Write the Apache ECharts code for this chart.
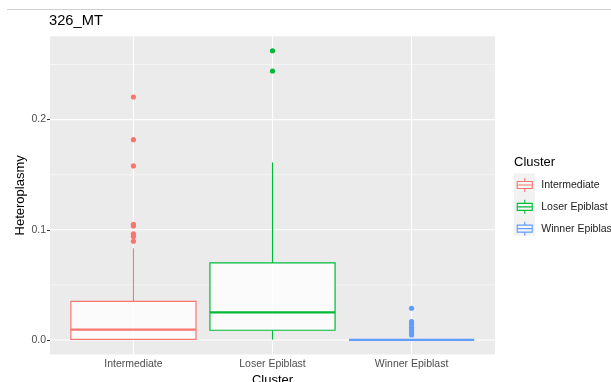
<!DOCTYPE html>
<html><head><meta charset="utf-8">
<script src="https://cdn.jsdelivr.net/npm/echarts@6/dist/echarts.min.js"></script>
<style>html,body{margin:0;padding:0;background:#fff;}#c{width:611px;height:382px;}</style>
</head><body><div id="c"></div>
<script>
// ---- data ----
var categories = ['Intermediate', 'Loser Epiblast', 'Winner Epiblast'];
// [lower whisker, Q1, median, Q3, upper whisker]
var intermediateBox = [0.0000, 0.0005, 0.0094, 0.0351, 0.0832];
var loserBox = [0.0003, 0.0088, 0.0251, 0.0699, 0.1612];
var winnerBox = [0.0000, 0.0000, 0.0000, 0.0000, 0.0000];
var intermediateOutliers = [0.2205, 0.1818, 0.1580, 0.1050, 0.1035, 0.0962, 0.0940, 0.0896];
var loserOutliers = [0.2625, 0.2441];
var winnerOutliers = [0.0288, 0.0166, 0.0142, 0.0115, 0.0091, 0.0066, 0.0045];
var yTicks = [0, 0.1, 0.2];
var yMinorTicks = [0.05, 0.15, 0.25];
var colors = ['#F8766D', '#00BA38', '#619CFF'];

var boxes = [intermediateBox, loserBox, winnerBox];
var outliers = [intermediateOutliers, loserOutliers, winnerOutliers];
var font = "'Liberation Sans', Arial, Helvetica, sans-serif";

var gridData = [];
yTicks.forEach(function (v) { gridData.push([0, v, 1]); });
yMinorTicks.forEach(function (v) { gridData.push([0, v, 0]); });
categories.forEach(function (c, i) { gridData.push([1, i + 1, 1]); });

var series = [{
  type: 'custom', name: '_grid', silent: true, z: 1,
  data: gridData,
  encode: { x: 1, y: 1 },
  renderItem: function (params, api) {
    var cs = params.coordSys;
    var o = api.value(0), v = api.value(1), major = api.value(2);
    var w = major ? 1.07 : 0.53;
    if (o === 0) {
      var y = api.coord([1, v])[1];
      return { type: 'line', shape: { x1: cs.x, y1: y, x2: cs.x + cs.width, y2: y }, style: { stroke: '#FFFFFF', lineWidth: w } };
    }
    var x = api.coord([v, 0])[0];
    return { type: 'line', shape: { x1: x, y1: cs.y, x2: x, y2: cs.y + cs.height }, style: { stroke: '#FFFFFF', lineWidth: w } };
  }
}];

categories.forEach(function (name, i) {
  var b = boxes[i];
  var col = colors[i];
  series.push({
    type: 'custom', name: name, z: 3,
    itemStyle: { color: col },
    data: [[i + 1].concat(b)],
    encode: { x: 0, y: [1, 2, 3, 4, 5] },
    renderItem: function (params, api) {
      var x = api.value(0);
      var lo = api.coord([x, api.value(1)]);
      var q1 = api.coord([x, api.value(2)]);
      var md = api.coord([x, api.value(3)]);
      var q3 = api.coord([x, api.value(4)]);
      var hi = api.coord([x, api.value(5)]);
      var bw = api.size([0.9, 0])[0];
      var cx = lo[0];
      var l = cx - bw / 2, r = cx + bw / 2;
      return { type: 'group', children: [
        { type: 'line', shape: { x1: cx, y1: hi[1], x2: cx, y2: q3[1] }, style: { stroke: col, lineWidth: 1.1 } },
        { type: 'line', shape: { x1: cx, y1: q1[1], x2: cx, y2: lo[1] }, style: { stroke: col, lineWidth: 1.1 } },
        { type: 'rect', shape: { x: l, y: q3[1], width: bw, height: q1[1] - q3[1] }, style: { fill: 'rgba(255,255,255,0.8)', stroke: col, lineWidth: 1.2 } },
        { type: 'line', shape: { x1: l, y1: md[1], x2: r, y2: md[1] }, style: { stroke: col, lineWidth: 2.2 } }
      ] };
    }
  });
  series.push({
    type: 'scatter', name: name, z: 4,
    symbolSize: 5.2,
    itemStyle: { color: col, opacity: 1 },
    data: outliers[i].map(function (v) { return [i + 1, v]; })
  });
});

var iconPath = 'path://M7.5,0L7.5,3.5M0,3.5L15,3.5L15,10.5L0,10.5ZM0,7L15,7M7.5,10.5L7.5,14';

var chart = echarts.init(document.getElementById('c'), null, { renderer: 'canvas' });
chart.setOption({
  animation: false,
  backgroundColor: '#FFFFFF',
  textStyle: { fontFamily: font },
  title: [
    { text: '326_MT', left: 49, top: 13, padding: 0, textStyle: { fontFamily: font, fontSize: 14.7, fontWeight: 'normal', color: '#000000' } },
    { text: 'Cluster', left: 514, top: 155.5, padding: 0, textStyle: { fontFamily: font, fontSize: 13, fontWeight: 'normal', color: '#000000' } }
  ],
  graphic: [
    { type: 'line', z: 0, shape: { x1: 7, y1: 9.5, x2: 611, y2: 9.5 }, style: { stroke: '#CFCFCF', lineWidth: 1 } },
    { type: 'rect', z: 0, shape: { x: 514, y: 173.5, width: 21, height: 62 }, style: { fill: '#F2F2F2' } }
  ],
  grid: { left: 50, right: 116, top: 36.3, bottom: 27.6, show: true, backgroundColor: '#EBEBEB', borderWidth: 0,
    containLabel: false, outerBoundsMode: 'none' },
  legend: {
    orient: 'vertical', left: 516.7, top: 177.5, padding: 0, itemGap: 6.7,
    itemWidth: 15, itemHeight: 14,
    textStyle: { fontFamily: font, fontSize: 10.5, color: '#1A1A1A', padding: [0, 0, 0, 4] },
    data: categories.map(function (n, i) {
      return { name: n, icon: iconPath, itemStyle: { color: '#F8F8F8', borderColor: colors[i], borderWidth: 1.1 } };
    })
  },
  xAxis: {
    type: 'value', min: 0.4, max: 3.6,
    name: 'Cluster', nameLocation: 'middle', nameGap: 19,
    nameTextStyle: { fontFamily: font, fontSize: 13, color: '#000000' },
    axisLine: { show: false },
    splitLine: { show: false },
    axisTick: { show: true, length: 3, customValues: [1, 2, 3], lineStyle: { color: '#333333', width: 1 } },
    axisLabel: { customValues: [1, 2, 3], margin: 4, fontFamily: font, fontSize: 10.5, color: '#4D4D4D',
      formatter: function (v) { return categories[Math.round(v) - 1] || ''; } }
  },
  yAxis: {
    type: 'value', min: -0.0131, max: 0.2756,
    name: 'Heteroplasmy', nameLocation: 'middle', nameGap: 23, nameRotate: 90, nameMoveOverlap: false,
    nameTextStyle: { fontFamily: font, fontSize: 13, color: '#000000' },
    axisLine: { show: false },
    splitLine: { show: false },
    axisTick: { show: true, length: 3, customValues: yTicks, lineStyle: { color: '#333333', width: 1 } },
    axisLabel: { customValues: yTicks, margin: 4, fontFamily: font, fontSize: 10.5, color: '#4D4D4D',
      formatter: function (v) { return v.toFixed(1); } }
  },
  series: series
});
</script></body></html>
